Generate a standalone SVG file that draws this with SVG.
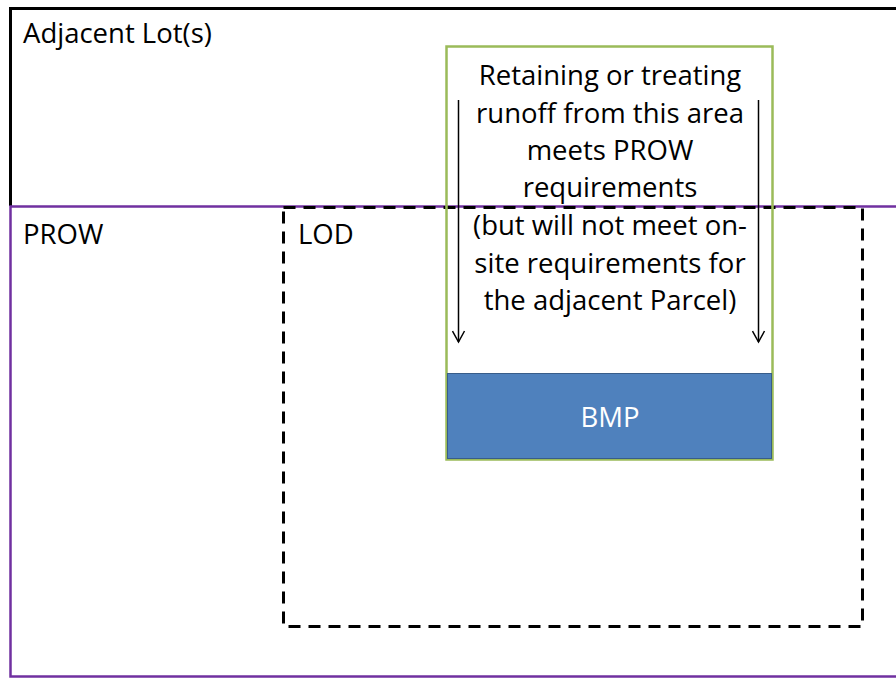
<svg xmlns="http://www.w3.org/2000/svg" width="896" height="679" viewBox="0 0 896 679">
<style>
.t{font-family:"Open Sans","Noto Sans","Liberation Sans",sans-serif;font-size:27.5px;fill:#000}
.c{text-anchor:middle}
</style>
<defs>
<marker id="ah" markerWidth="14" markerHeight="14" refX="12" refY="7" orient="auto" markerUnits="userSpaceOnUse" viewBox="0 0 14 14">
<path d="M1,1 L12,7 L1,13" fill="none" stroke="#000" stroke-width="1.5"/>
</marker>
</defs>
<rect width="896" height="679" fill="#fff"/>
<g id="adjacent-lots">
<path d="M10.5,206 V8.5 H900" fill="none" stroke="#000" stroke-width="3"/>
<text class="t" x="23" y="43">Adjacent Lot(s)</text>
</g>
<g id="prow">
<rect x="10.5" y="206.5" width="900" height="470" fill="none" stroke="#7030A0" stroke-width="2.5"/>
<text class="t" x="23" y="244">PROW</text>
</g>
<g id="lod">
<rect x="283.5" y="207.5" width="579" height="419" fill="none" stroke="#000" stroke-width="3" stroke-dasharray="12 8"/>
<text class="t" x="298" y="244">LOD</text>
</g>
<g id="area">
<rect x="446.5" y="46.5" width="326" height="413" fill="none" stroke="#9BBB59" stroke-width="2.5"/>
<text class="t c" x="610" y="85">Retaining or treating</text>
<text class="t c" x="610" y="123">runoff from this area</text>
<text class="t c" x="610" y="160">meets PROW</text>
<text class="t c" x="610" y="197">requirements</text>
<text class="t c" x="610" y="235">(but will not meet on-</text>
<text class="t c" x="610" y="273">site requirements for</text>
<text class="t c" x="610" y="310">the adjacent Parcel)</text>
</g>
<g id="bmp">
<rect x="447.5" y="373.5" width="324" height="85" fill="#4F81BD" stroke="#385D8A" stroke-width="1"/>
<text class="t c" x="610" y="427" style="fill:#fff">BMP</text>
</g>
<g id="connectors">
<line x1="458.5" y1="100" x2="458.5" y2="342" stroke="#000" stroke-width="1.5" marker-end="url(#ah)"/>
<line x1="758.5" y1="100" x2="758.5" y2="342" stroke="#000" stroke-width="1.5" marker-end="url(#ah)"/>
</g>
</svg>
